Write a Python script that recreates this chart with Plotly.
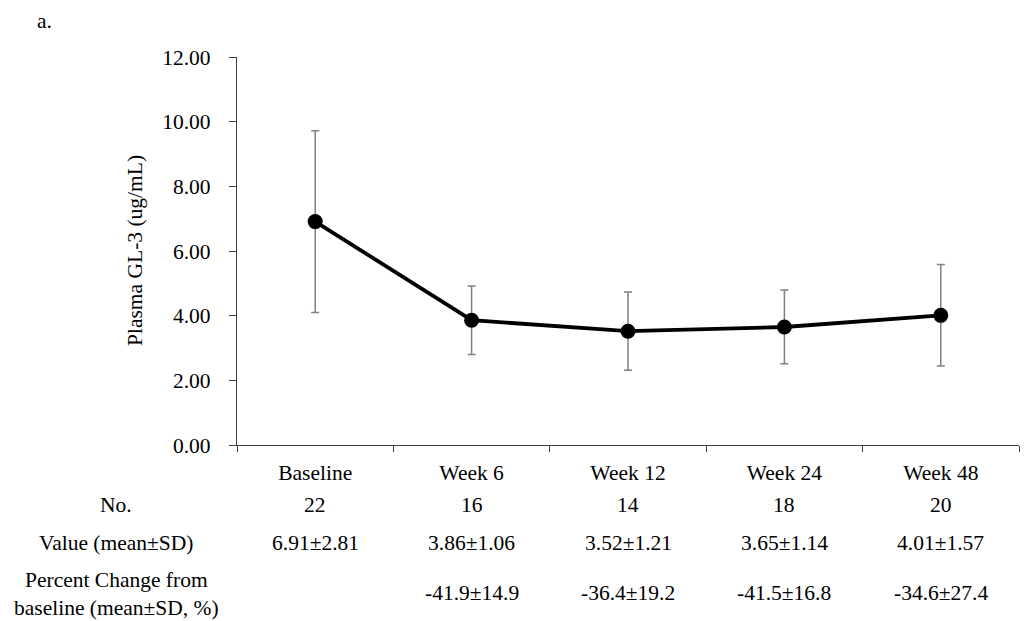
import plotly.graph_objects as go

categories = ["Baseline", "Week 6", "Week 12", "Week 24", "Week 48"]
means = [6.91, 3.86, 3.52, 3.65, 4.01]
sds = [2.81, 1.06, 1.21, 1.14, 1.57]
n_counts = ["22", "16", "14", "18", "20"]
value_text = ["6.91±2.81", "3.86±1.06", "3.52±1.21", "3.65±1.14", "4.01±1.57"]
pct_text = ["", "-41.9±14.9", "-36.4±19.2", "-41.5±16.8", "-34.6±27.4"]
y_ticks = [0, 2, 4, 6, 8, 10, 12]

FONT = "Liberation Serif, Times New Roman, serif"
FS = 21.5

# page offset of the figure (browser body margin) and plot area in page pixels
OFF = 8
W, H = 1028 - OFF, 621 - OFF
X0, X1, Y0, Y1 = 237, 1019, 57, 445  # plot area left, right, top, bottom (page px)
L, R, T, B = X0 - OFF, OFF + W - X1, Y0 - OFF, OFF + H - Y1
PW, PH = X1 - X0, Y1 - Y0


def px_x(p):
    return (p - X0) / PW


def px_y(p):
    return (Y1 - p) / PH


fig = go.Figure()
fig.add_trace(go.Scatter(
    x=categories, y=means, mode="lines+markers",
    line=dict(color="black", width=3.8),
    marker=dict(color="black", size=15),
    error_y=dict(type="data", array=sds, visible=True, color="#808080", thickness=1.5, width=4),
    showlegend=False,
))

ann = []
row_defs = [(n_counts, 505), (value_text, 543), (pct_text, 593)]
for texts, py in row_defs:
    for c, t in zip(categories, texts):
        if t:
            ann.append(dict(x=c, y=px_y(py), xref="x", yref="paper", text=t, showarrow=False,
                            font=dict(family=FONT, size=FS, color="black"),
                            xanchor="center", yanchor="middle"))

label_defs = [("No.", 505), ("Value (mean±SD)", 543),
              ("Percent Change from<br>baseline (mean±SD, %)", 594)]
for t, py in label_defs:
    ann.append(dict(x=px_x(116), y=px_y(py), xref="paper", yref="paper", text=t, showarrow=False,
                    font=dict(family=FONT, size=FS, color="black"),
                    xanchor="center", yanchor="middle", align="center"))

ann.append(dict(x=px_x(35), y=px_y(21), xref="paper", yref="paper", text="a.", showarrow=False,
                font=dict(family=FONT, size=FS, color="black"),
                xanchor="left", yanchor="middle"))

ann.append(dict(x=px_x(135), y=0.5, xref="paper", yref="paper", text="Plasma GL-3 (ug/mL)",
                showarrow=False, textangle=-90,
                font=dict(family=FONT, size=FS, color="black"),
                xanchor="center", yanchor="middle"))

fig.update_layout(
    width=W, height=H,
    margin=dict(l=L, r=R, t=T, b=B),
    paper_bgcolor="white", plot_bgcolor="white",
    font=dict(family=FONT, size=FS, color="black"),
    annotations=ann,
    xaxis=dict(
        type="category", range=[-0.5, 4.5], tickson="boundaries",
        ticks="outside", ticklen=6, tickcolor="#404040", tickwidth=1.3,
        showline=True, linecolor="#404040", linewidth=1.3,
        showgrid=False, zeroline=False, automargin=False,
        ticklabelstandoff=8,
        tickfont=dict(family=FONT, size=FS, color="black"),
    ),
    yaxis=dict(
        range=[0, 12], tickvals=y_ticks, tickformat=".2f",
        ticks="outside", ticklen=7, tickcolor="#404040", tickwidth=1.3,
        showline=True, linecolor="#404040", linewidth=1.3,
        showgrid=False, zeroline=False, automargin=False,
        ticklabelstandoff=14,
        tickfont=dict(family=FONT, size=FS, color="black"),
    ),
)

fig.write_html("out.html")
